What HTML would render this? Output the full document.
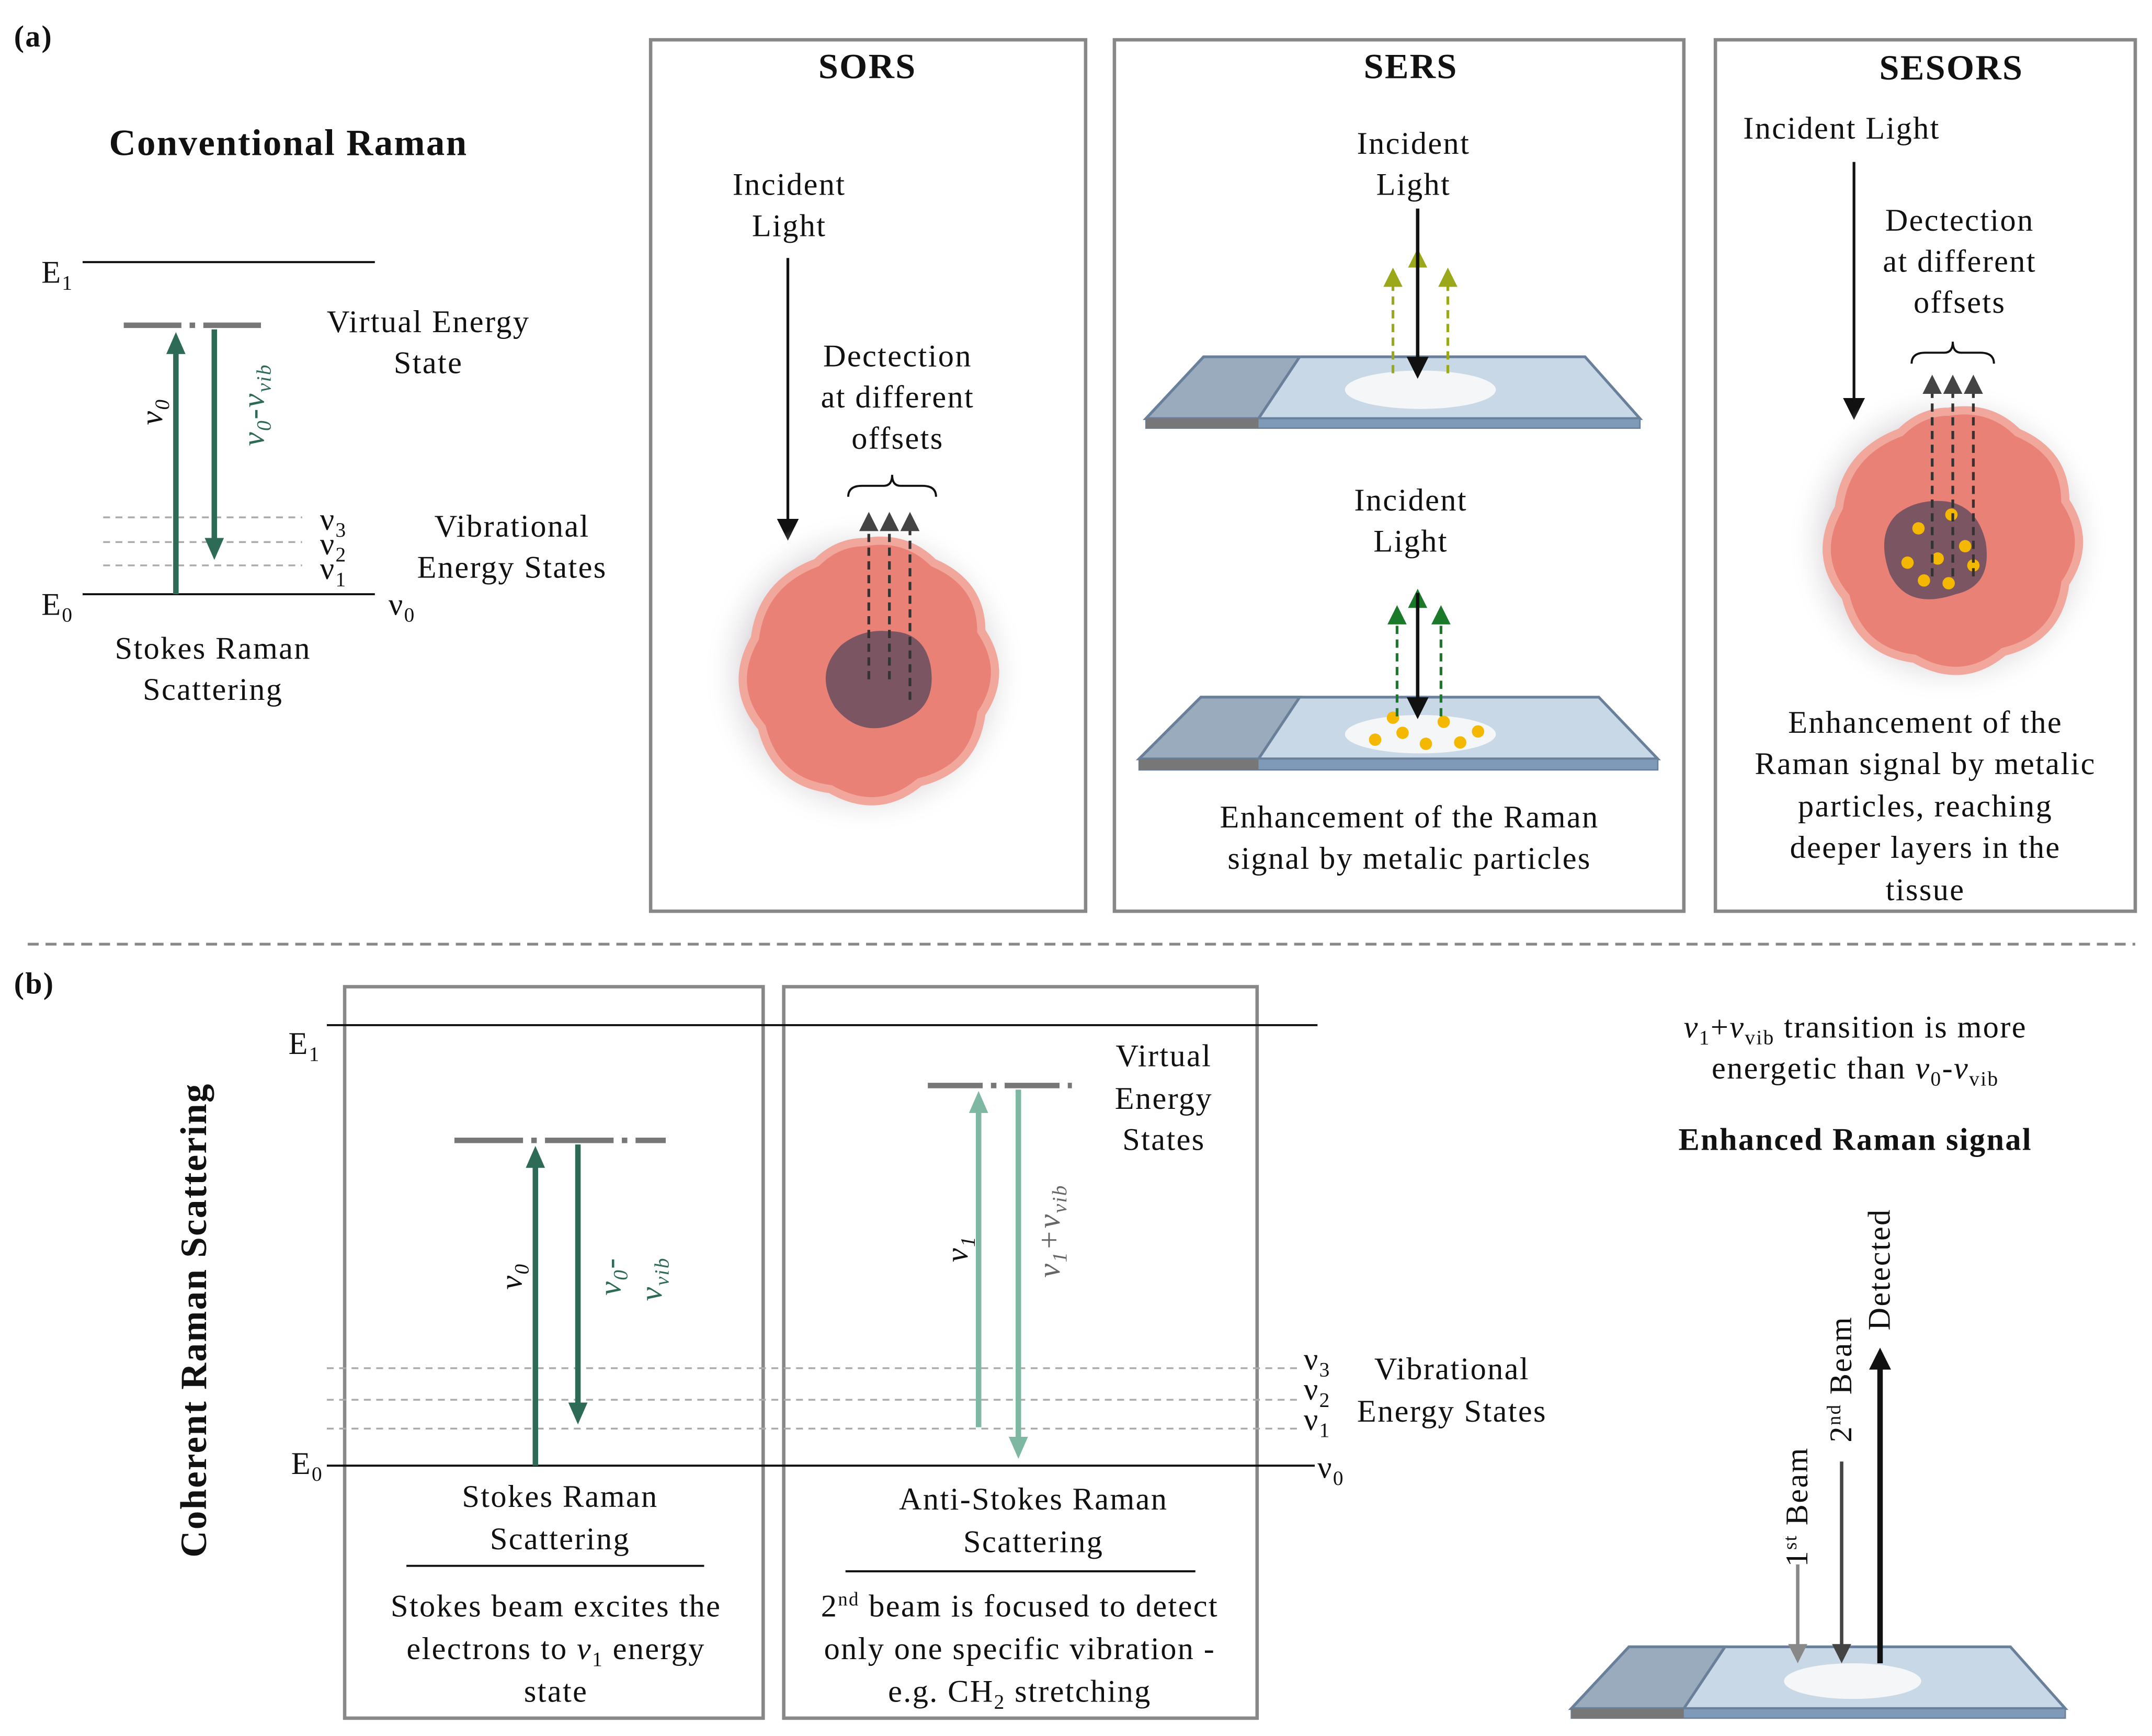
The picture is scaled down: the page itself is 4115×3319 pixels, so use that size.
<!DOCTYPE html>
<html><head><meta charset="utf-8"><style>
html,body{margin:0;padding:0;background:#fff}
svg{display:block}
text{font-family:"Liberation Serif","DejaVu Serif",serif;font-size:23px;letter-spacing:0.9px;fill:#111;text-anchor:middle}
.b{font-weight:bold}
.l{text-anchor:start}
</style></head><body>
<svg width="4115" height="3319" viewBox="0 0 1568 1265" xmlns="http://www.w3.org/2000/svg">
<defs>
<marker id="ag" markerWidth="16" markerHeight="16" refX="8" refY="8" orient="auto" markerUnits="userSpaceOnUse" viewBox="0 0 16 16"><path d="M0,1L16,8L0,15z" fill="#2e6b57"/></marker>
<marker id="al" markerWidth="16" markerHeight="16" refX="8" refY="8" orient="auto" markerUnits="userSpaceOnUse" viewBox="0 0 16 16"><path d="M0,1L16,8L0,15z" fill="#7fb8a2"/></marker>
<marker id="ad" markerWidth="14" markerHeight="14" refX="7" refY="7" orient="auto" markerUnits="userSpaceOnUse" viewBox="0 0 14 14"><path d="M0,0L14,7L0,14z" fill="#444"/></marker>
<marker id="ay" markerWidth="14" markerHeight="14" refX="7" refY="7" orient="auto" markerUnits="userSpaceOnUse" viewBox="0 0 14 14"><path d="M0,0L14,7L0,14z" fill="#9aa81a"/></marker>
<marker id="agr" markerWidth="14" markerHeight="14" refX="7" refY="7" orient="auto" markerUnits="userSpaceOnUse" viewBox="0 0 14 14"><path d="M0,0L14,7L0,14z" fill="#1a7a2a"/></marker>
<marker id="agy" markerWidth="14" markerHeight="14" refX="7" refY="7" orient="auto" markerUnits="userSpaceOnUse" viewBox="0 0 14 14"><path d="M0,0L14,7L0,14z" fill="#888"/></marker>
<marker id="ab" markerWidth="16" markerHeight="16" refX="8" refY="8" orient="auto" markerUnits="userSpaceOnUse" viewBox="0 0 16 16"><path d="M0,0L16,8L0,16z" fill="#111"/></marker>
<radialGradient id="glow"><stop offset="0.7" stop-color="#d8d4d8"/><stop offset="1" stop-color="#fff" stop-opacity="0"/></radialGradient>
</defs>

<text x="10" y="34" class="b l" style="font-size:22px">(a)</text>
<text x="10" y="724" class="b l" style="font-size:22px">(b)</text>

<text x="210" y="113" class="b" style="font-size:27px">Conventional Raman</text>
<line x1="60" y1="191" x2="273" y2="191" stroke="#111" stroke-width="1.5"/>
<text x="30" y="206" class="l">E<tspan font-size="15" dy="5">1</tspan></text>
<line x1="90" y1="237" x2="195" y2="237" stroke="#777" stroke-width="4" stroke-dasharray="42,6,4,6"/>
<g stroke="#aaa" stroke-width="1.3" stroke-dasharray="5,4"><line x1="75" y1="377" x2="220" y2="377"/><line x1="75" y1="395" x2="220" y2="395"/><line x1="75" y1="412" x2="220" y2="412"/></g>
<line x1="60" y1="433" x2="273" y2="433" stroke="#111" stroke-width="1.5"/>
<line x1="128" y1="433" x2="128" y2="250" stroke="#2e6b57" stroke-width="4" marker-end="url(#ag)"/>
<line x1="156" y1="240" x2="156" y2="400" stroke="#2e6b57" stroke-width="4" marker-end="url(#ag)"/>
<text transform="translate(118,300) rotate(-90)" font-style="italic">ν<tspan font-size="15" dy="5">0</tspan></text>
<text transform="translate(192,295) rotate(-90)" font-style="italic" style="fill:#2e6b57">ν<tspan font-size="15" dy="5">0</tspan><tspan dy="-5">-ν</tspan><tspan font-size="15" dy="5">vib</tspan></text>
<text x="233" y="386" class="l">ν<tspan font-size="15" dy="5">3</tspan></text>
<text x="233" y="404" class="l">ν<tspan font-size="15" dy="5">2</tspan></text>
<text x="233" y="422" class="l">ν<tspan font-size="15" dy="5">1</tspan></text>
<text x="30" y="448" class="l">E<tspan font-size="15" dy="5">0</tspan></text>
<text x="283" y="448" class="l">ν<tspan font-size="15" dy="5">0</tspan></text>
<text x="312" y="242">Virtual  Energy</text><text x="312" y="272">State</text>
<text x="373" y="391">Vibrational</text><text x="373" y="421">Energy States</text>
<text x="155" y="480">Stokes Raman</text><text x="155" y="510">Scattering</text>

<g fill="none" stroke="#888" stroke-width="2.5">
<rect x="474" y="29" width="317" height="635"/><rect x="812" y="29" width="415" height="635"/><rect x="1250" y="29" width="306" height="635"/>
<rect x="251" y="719" width="305" height="533"/><rect x="571" y="719" width="345" height="533"/>
</g>

<text x="632" y="57" class="b" style="font-size:26px">SORS</text>
<text x="575" y="142">Incident</text><text x="575" y="172">Light</text>
<line x1="574" y1="188" x2="574" y2="386" stroke="#111" stroke-width="2" marker-end="url(#ab)"/>
<text x="654" y="267">Dectection</text><text x="654" y="297">at different</text><text x="654" y="327">offsets</text>
<path d="M618,362 q0,-8 10,-8 h16 q6,0 6,-8 q0,8 6,8 h16 q10,0 10,8" fill="none" stroke="#111" stroke-width="1.5"/>
<circle cx="630" cy="490" r="118" fill="url(#glow)"/>
<path d="M630,395 q30,-5 50,15 q35,15 35,50 q20,30 0,60 q-5,40 -45,50 q-30,25 -65,5 q-40,-5 -50,-45 q-25,-30 -5,-65 q5,-40 45,-55 q15,-15 35,-15z" fill="#e98177" stroke="#f2a79d" stroke-width="6"/>
<path d="M648,460 q25,0 30,25 q5,30 -20,40 q-30,15 -50,-10 q-15,-25 5,-45 q15,-12 35,-10z" fill="#7c5563"/>
<g stroke="#333" stroke-width="2" stroke-dasharray="6,4"><line x1="633" y1="495" x2="633" y2="380" marker-end="url(#ad)"/><line x1="648" y1="495" x2="648" y2="380" marker-end="url(#ad)"/><line x1="663" y1="510" x2="663" y2="380" marker-end="url(#ad)"/></g>

<text x="1028" y="57" class="b" style="font-size:26px">SERS</text>
<text x="1030" y="112">Incident</text><text x="1030" y="142">Light</text>
<polygon points="877,260 1155,260 1195,305 835,305" fill="#c8d8e6" stroke="#6a809a" stroke-width="2"/>
<polygon points="877,260 947,260 917,305 835,305" fill="#9aabbd" stroke="#6a809a" stroke-width="2"/>
<rect x="835" y="305" width="360" height="7" fill="#7e9ab8" stroke="#6a809a"/><rect x="835" y="305" width="82" height="7" fill="#777"/>
<ellipse cx="1035" cy="284" rx="55" ry="14" fill="#f4f6f8"/>
<g stroke="#9aa81a" stroke-width="2" stroke-dasharray="6,4"><line x1="1015" y1="272" x2="1015" y2="202" marker-end="url(#ay)"/><line x1="1033" y1="272" x2="1033" y2="188" marker-end="url(#ay)"/><line x1="1055" y1="272" x2="1055" y2="202" marker-end="url(#ay)"/></g>
<line x1="1033" y1="152" x2="1033" y2="268" stroke="#111" stroke-width="2.5" marker-end="url(#ab)"/>
<text x="1028" y="372">Incident</text><text x="1028" y="402">Light</text>
<polygon points="875,508 1165,508 1208,553 830,553" fill="#c8d8e6" stroke="#6a809a" stroke-width="2"/>
<polygon points="875,508 947,508 917,553 830,553" fill="#9aabbd" stroke="#6a809a" stroke-width="2"/>
<rect x="830" y="553" width="378" height="8" fill="#7e9ab8" stroke="#6a809a"/><rect x="830" y="553" width="87" height="8" fill="#777"/>
<ellipse cx="1035" cy="535" rx="55" ry="14" fill="#f4f6f8"/>
<g fill="#f5b800"><circle cx="1002" cy="539" r="4.5"/><circle cx="1015" cy="523" r="4.5"/><circle cx="1022" cy="534" r="4.5"/><circle cx="1039" cy="542" r="4.5"/><circle cx="1052" cy="526" r="4.5"/><circle cx="1064" cy="541" r="4.5"/><circle cx="1077" cy="533" r="4.5"/></g>
<g stroke="#1a7a2a" stroke-width="2" stroke-dasharray="6,4"><line x1="1018" y1="522" x2="1018" y2="448" marker-end="url(#agr)"/><line x1="1033" y1="522" x2="1033" y2="436" marker-end="url(#agr)"/><line x1="1050" y1="522" x2="1050" y2="448" marker-end="url(#agr)"/></g>
<line x1="1033" y1="432" x2="1033" y2="516" stroke="#111" stroke-width="2.5" marker-end="url(#ab)"/>
<text x="1027" y="603">Enhancement of the Raman</text><text x="1027" y="633">signal by metalic particles</text>

<text x="1422" y="58" class="b" style="font-size:26px">SESORS</text>
<text x="1342" y="101">Incident Light</text>
<line x1="1351" y1="118" x2="1351" y2="298" stroke="#111" stroke-width="2" marker-end="url(#ab)"/>
<text x="1428" y="168">Dectection</text><text x="1428" y="198">at different</text><text x="1428" y="228">offsets</text>
<path d="M1393,265 q0,-8 10,-8 h14 q6,0 6,-8 q0,8 6,8 h14 q10,0 10,8" fill="none" stroke="#111" stroke-width="1.5"/>
<circle cx="1420" cy="395" r="118" fill="url(#glow)"/>
<path d="M1420,300 q30,-5 50,15 q35,15 35,50 q20,30 0,60 q-5,40 -45,50 q-30,25 -65,5 q-40,-5 -50,-45 q-25,-30 -5,-65 q5,-40 45,-55 q15,-15 35,-15z" fill="#e98177" stroke="#f2a79d" stroke-width="6"/>
<path d="M1412,365 q28,0 35,30 q5,32 -22,38 q-35,12 -48,-15 q-10,-28 5,-43 q12,-10 30,-10z" fill="#7c5563"/>
<g fill="#f5b800"><circle cx="1398" cy="385" r="4.5"/><circle cx="1422" cy="375" r="4.5"/><circle cx="1412" cy="407" r="4.5"/><circle cx="1432" cy="398" r="4.5"/><circle cx="1390" cy="410" r="4.5"/><circle cx="1420" cy="425" r="4.5"/><circle cx="1438" cy="412" r="4.5"/><circle cx="1402" cy="423" r="4.5"/></g>
<g stroke="#333" stroke-width="2" stroke-dasharray="6,4"><line x1="1408" y1="420" x2="1408" y2="280" marker-end="url(#ad)"/><line x1="1423" y1="420" x2="1423" y2="280" marker-end="url(#ad)"/><line x1="1438" y1="420" x2="1438" y2="280" marker-end="url(#ad)"/></g>
<text x="1403" y="534">Enhancement of the</text><text x="1403" y="564">Raman signal by metalic</text><text x="1403" y="595">particles, reaching</text><text x="1403" y="625">deeper layers in the</text><text x="1403" y="656">tissue</text>

<line x1="20" y1="688" x2="1556" y2="688" stroke="#888" stroke-width="2" stroke-dasharray="8,5"/>

<text transform="translate(150,962) rotate(-90)" class="b" style="font-size:27px">Coherent Raman Scattering</text>
<line x1="238" y1="747" x2="960" y2="747" stroke="#111" stroke-width="1.5"/>
<text x="210" y="768" class="l">E<tspan font-size="15" dy="5">1</tspan></text>
<g stroke="#aaa" stroke-width="1.3" stroke-dasharray="5,4"><line x1="238" y1="997" x2="945" y2="997"/><line x1="238" y1="1020" x2="945" y2="1020"/><line x1="238" y1="1041" x2="945" y2="1041"/></g>
<line x1="238" y1="1068" x2="958" y2="1068" stroke="#111" stroke-width="1.5"/>
<text x="212" y="1074" class="l">E<tspan font-size="15" dy="5">0</tspan></text>
<text x="960" y="1077" class="l">ν<tspan font-size="15" dy="5">0</tspan></text>
<text x="950" y="998" class="l">ν<tspan font-size="15" dy="5">3</tspan></text>
<text x="950" y="1020" class="l">ν<tspan font-size="15" dy="5">2</tspan></text>
<text x="950" y="1042" class="l">ν<tspan font-size="15" dy="5">1</tspan></text>
<text x="1058" y="1005">Vibrational</text><text x="1058" y="1036">Energy States</text>
<line x1="331" y1="831" x2="485" y2="831" stroke="#777" stroke-width="4" stroke-dasharray="50,6,4,6"/>
<line x1="390" y1="1068" x2="390" y2="843" stroke="#2e6b57" stroke-width="4" marker-end="url(#ag)"/>
<line x1="421" y1="834" x2="421" y2="1030" stroke="#2e6b57" stroke-width="4" marker-end="url(#ag)"/>
<text transform="translate(380,930) rotate(-90)" font-style="italic">ν<tspan font-size="15" dy="5">0</tspan></text>
<text transform="translate(452,930) rotate(-90)" font-style="italic" style="fill:#2e6b57">ν<tspan font-size="15" dy="5">0</tspan><tspan dy="-5">-</tspan></text>
<text transform="translate(482,932) rotate(-90)" font-style="italic" style="fill:#2e6b57">ν<tspan font-size="15" dy="5">vib</tspan></text>
<line x1="676" y1="791" x2="781" y2="791" stroke="#777" stroke-width="4" stroke-dasharray="40,6,4,6"/>
<line x1="713" y1="1040" x2="713" y2="803" stroke="#7fb8a2" stroke-width="4" marker-end="url(#al)"/>
<line x1="742" y1="794" x2="742" y2="1055" stroke="#7fb8a2" stroke-width="4" marker-end="url(#al)"/>
<text transform="translate(705,910) rotate(-90)" font-style="italic">ν<tspan font-size="15" dy="5">1</tspan></text>
<text transform="translate(772,897) rotate(-90)" font-style="italic" style="fill:#666">ν<tspan font-size="15" dy="5">1</tspan><tspan dy="-5">+ν</tspan><tspan font-size="15" dy="5">vib</tspan></text>
<text x="848" y="777">Virtual</text><text x="848" y="808">Energy</text><text x="848" y="838">States</text>
<text x="408" y="1098">Stokes Raman</text><text x="408" y="1129">Scattering</text>
<line x1="296" y1="1141" x2="513" y2="1141" stroke="#111" stroke-width="1.5"/>
<text x="405" y="1178">Stokes beam excites the</text><text x="405" y="1209">electrons to <tspan font-style="italic">ν</tspan><tspan font-size="15" dy="5">1</tspan><tspan dy="-5"> energy</tspan></text><text x="405" y="1240">state</text>
<text x="753" y="1100">Anti-Stokes Raman</text><text x="753" y="1131">Scattering</text>
<line x1="616" y1="1145" x2="871" y2="1145" stroke="#111" stroke-width="1.5"/>
<text x="743" y="1178">2<tspan font-size="14" dy="-8">nd</tspan><tspan dy="8"> beam is focused to detect</tspan></text><text x="743" y="1209">only one specific vibration -</text><text x="743" y="1240">e.g. CH<tspan font-size="15" dy="5">2</tspan><tspan dy="-5"> stretching</tspan></text>

<text x="1352" y="756"><tspan font-style="italic">ν</tspan><tspan font-size="15" dy="5">1</tspan><tspan dy="-5">+</tspan><tspan font-style="italic">ν</tspan><tspan font-size="15" dy="5">vib</tspan><tspan dy="-5"> transition is more</tspan></text>
<text x="1352" y="786">energetic than <tspan font-style="italic">ν</tspan><tspan font-size="15" dy="5">0</tspan><tspan dy="-5">-</tspan><tspan font-style="italic">ν</tspan><tspan font-size="15" dy="5">vib</tspan></text>
<text x="1352" y="838" class="b">Enhanced Raman signal</text>
<polygon points="1187,1200 1465,1200 1505,1245 1145,1245" fill="#c8d8e6" stroke="#6a809a" stroke-width="2"/>
<polygon points="1187,1200 1257,1200 1227,1245 1145,1245" fill="#9aabbd" stroke="#6a809a" stroke-width="2"/>
<rect x="1145" y="1245" width="360" height="7" fill="#7e9ab8" stroke="#6a809a"/><rect x="1145" y="1245" width="82" height="7" fill="#777"/>
<ellipse cx="1350" cy="1225" rx="50" ry="13" fill="#f4f6f8"/>
<line x1="1310" y1="1140" x2="1310" y2="1205" stroke="#888" stroke-width="2.5" marker-end="url(#agy)"/>
<line x1="1342" y1="1065" x2="1342" y2="1205" stroke="#444" stroke-width="2.5" marker-end="url(#ad)"/>
<line x1="1370" y1="1212" x2="1370" y2="990" stroke="#111" stroke-width="4" marker-end="url(#ab)"/>
<text transform="translate(1317,1098) rotate(-90)">1<tspan font-size="14" dy="-8">st</tspan><tspan dy="8"> Beam</tspan></text>
<text transform="translate(1349,1005) rotate(-90)">2<tspan font-size="14" dy="-8">nd</tspan><tspan dy="8"> Beam</tspan></text>
<text transform="translate(1377,925) rotate(-90)">Detected</text>
</svg>
</body></html>
